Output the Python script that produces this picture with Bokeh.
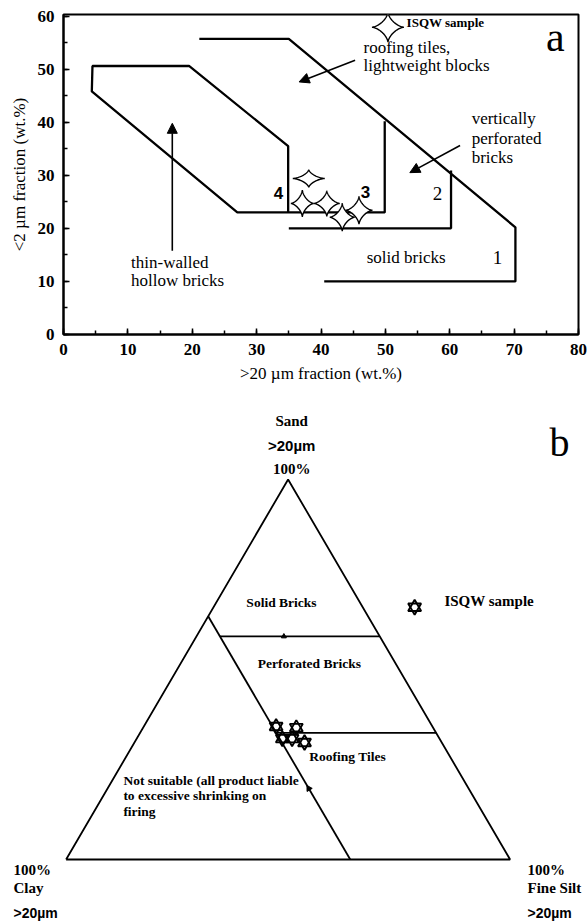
import numpy as np
from bokeh.plotting import figure
from bokeh.layouts import column
from bokeh.models import Range1d, SingleIntervalTicker, Arrow, NormalHead
from bokeh.core.properties import value
from bokeh.embed import file_html
from bokeh.resources import INLINE

SERIF = "Liberation Serif"
SANS = "Liberation Sans"

# ---------------- panel a : Winkler diagram ----------------
X_TICK_VALUES = [0, 10, 20, 30, 40, 50, 60, 70, 80]
Y_TICK_VALUES = [0, 10, 20, 30, 40, 50, 60]

# field boundaries (>20 um %, <2 um %)
solid_x = [21.1, 35.0, 70.2, 70.2, 40.5]
solid_y = [55.7, 55.7, 20.2, 10.0, 10.0]
perf_x = [60.2, 60.2, 35.0]
perf_y = [30.9, 20.0, 20.0]
roof_hollow_x = [49.9, 49.9, 27.0, 4.4, 4.5, 19.5, 34.9, 34.9]
roof_hollow_y = [40.2, 23.0, 23.0, 45.8, 50.6, 50.6, 35.5, 23.0]

# ISQW samples
sample_coarse = [38.1, 37.1, 40.9, 43.3, 45.9]   # >20 um fraction
sample_fine = [29.4, 24.7, 24.7, 22.1, 23.4]     # <2 um fraction
legend_a = [50.4, 57.9]

# ---------------- panel b : ternary diagram ----------------
tern_sand = [35.0, 34.7, 31.8, 31.8, 30.8]
tern_clay = [35.2, 30.8, 35.4, 33.2, 30.9]
tern_silt = [100 - s - c for s, c in zip(tern_sand, tern_clay)]
CLAY_LIMIT = 36.0
SAND_SOLID = 58.7
SAND_ROOF = 33.3

W = 587
H1 = 395
H2 = 921 - H1
BL, BR = 63, 9

# ---------- figure a ----------
p1 = figure(width=W, height=H1, x_range=Range1d(0, 80), y_range=Range1d(0, 60.3),
            output_backend="svg", toolbar_location=None,
            min_border_left=BL, min_border_right=BR, min_border_top=14, min_border_bottom=61)
p1.frame_align = False
p1.grid.visible = False
p1.outline_line_color = "black"
p1.outline_line_width = 2
p1.background_fill_color = "white"
p1.border_fill_color = "white"

for ax, lab in ((p1.xaxis[0], ">20 \u00b5m fraction (wt.%)"), (p1.yaxis[0], "<2 \u00b5m fraction (wt.%)")):
    ax.ticker = SingleIntervalTicker(interval=10, num_minor_ticks=2)
    ax.axis_label = lab
    ax.axis_line_width = 2
    ax.axis_line_color = "black"
    ax.major_tick_in = 6
    ax.major_tick_out = 0
    ax.minor_tick_in = 4
    ax.minor_tick_out = 0
    ax.major_tick_line_width = 1.5
    ax.minor_tick_line_width = 1.5
    ax.major_tick_line_color = "black"
    ax.minor_tick_line_color = "black"
    ax.major_label_text_font = SERIF
    ax.major_label_text_font_style = "bold"
    ax.major_label_text_font_size = "17px"
    ax.major_label_text_color = "black"
    ax.major_label_standoff = 9
    ax.axis_label_text_font = SERIF
    ax.axis_label_text_font_style = "normal"
    ax.axis_label_text_font_size = "17px"
    ax.axis_label_text_color = "black"
    ax.axis_label_standoff = 6

LW = 2.3
p1.line(solid_x, solid_y, line_color="black", line_width=LW)
p1.line(perf_x, perf_y, line_color="black", line_width=LW)
p1.line(roof_hollow_x, roof_hollow_y, line_color="black", line_width=LW)

# arrows
def add_arrow(p, x0, y0, x1, y1, size=10, lw=1.6):
    p.add_layout(Arrow(end=NormalHead(size=size, fill_color="black", line_color="black", line_width=1),
                       x_start=x0, y_start=y0, x_end=x1, y_end=y1,
                       line_color="black", line_width=lw))

add_arrow(p1, 45.3, 51.7, 36.6, 47.6)
add_arrow(p1, 61.6, 35.6, 53.8, 30.5)
add_arrow(p1, 16.9, 15.8, 16.9, 39.8)

# four pointed stars
SX = (W - BL - BR) / 80.0
SY = (H1 - 14 - 61) / 60.3
STAR_HALF = [(16, 9), (11.5, 13.5), (13, 13), (12.5, 14), (13.5, 14)]
LEGEND_HALF = (16, 15)

def star4(cx, cy, hw, hh, k=3.0, n=160):
    t = np.linspace(0, 2 * np.pi, n, endpoint=False)
    c, s = np.cos(t), np.sin(t)
    xs = cx + hw / SX * np.sign(c) * np.abs(c) ** k
    ys = cy + hh / SY * np.sign(s) * np.abs(s) ** k
    return list(xs), list(ys)

sxs, sys_ = [], []
for (cx, cy), (hw, hh) in zip(zip(sample_coarse, sample_fine), STAR_HALF):
    a, b = star4(cx, cy, hw, hh)
    sxs.append(a)
    sys_.append(b)
a, b = star4(legend_a[0], legend_a[1], *LEGEND_HALF)
sxs.append(a)
sys_.append(b)
p1.patches(sxs, sys_, fill_color="white", line_color="black", line_width=1.4)

def txt(p, x, y, t, size, font=SERIF, style="normal", align="left", baseline="middle"):
    p.text(x=[x], y=[y], text=[t], text_font=value(font), text_font_size=size,
           text_font_style=style, text_align=align, text_baseline=baseline, text_color="black")

txt(p1, 53.3, 58.8, "ISQW sample", "13px", style="bold")
txt(p1, 46.6, 54.1, "roofing tiles,", "17px")
txt(p1, 46.6, 50.7, "lightweight blocks", "17px")
txt(p1, 63.4, 40.7, "vertically", "17px")
txt(p1, 63.4, 36.9, "perforated", "17px")
txt(p1, 63.4, 33.4, "bricks", "17px")
txt(p1, 10.5, 13.6, "thin-walled", "17px")
txt(p1, 10.5, 10.2, "hollow bricks", "17px")
txt(p1, 47.1, 14.5, "solid bricks", "17px")
txt(p1, 67.4, 14.5, "1", "19px", align="center")
txt(p1, 58.1, 26.6, "2", "19px", align="center")
txt(p1, 46.9, 26.8, "3", "17px", font=SANS, style="bold", align="center")
txt(p1, 33.4, 26.6, "4", "17px", font=SANS, style="bold", align="center")
txt(p1, 76.4, 56.0, "a", "42px", align="center")

# ---------- figure b ----------
# page px -> ternary units: X = (px - 65.6)/4.44 ; frame spans the whole width
p2 = figure(width=W, height=H2, x_range=Range1d(-65.6 / 4.44, (W - 65.6) / 4.44),
            y_range=Range1d(-14.13, 105.74),
            x_axis_location=None, y_axis_location=None, min_border=0,
            output_backend="svg", toolbar_location=None)
p2.frame_align = False
p2.grid.visible = False
p2.outline_line_color = None
p2.background_fill_color = "white"
p2.border_fill_color = "white"

R3 = np.sqrt(3) / 2

def tern(sand, clay, silt):
    sand = np.asarray(sand, dtype=float)
    clay = np.asarray(clay, dtype=float)
    silt = np.asarray(silt, dtype=float)
    tot = sand + clay + silt
    s, f = sand / tot * 100, silt / tot * 100
    return list(f + s / 2), list(s * R3)

LW2 = 1.8
tx, ty = tern([0, 0, 100, 0], [100, 0, 0, 100], [0, 100, 0, 0])
p2.line(tx, ty, line_color="black", line_width=LW2)
ix, iy = tern([100 - CLAY_LIMIT, 0], [CLAY_LIMIT, CLAY_LIMIT], [0, 100 - CLAY_LIMIT])
p2.line(ix, iy, line_color="black", line_width=LW2)
hx, hy = tern([SAND_SOLID, SAND_SOLID], [CLAY_LIMIT, 0], [100 - SAND_SOLID - CLAY_LIMIT, 100 - SAND_SOLID])
p2.line(hx, hy, line_color="black", line_width=LW2)
rx, ry = tern([SAND_ROOF, SAND_ROOF], [CLAY_LIMIT, 0], [100 - SAND_ROOF - CLAY_LIMIT, 100 - SAND_ROOF])
p2.line(rx, ry, line_color="black", line_width=LW2)

# tiny arrow tips on the boundaries
ax1, ay1 = tern([SAND_SOLID], [21.6], [100 - SAND_SOLID - 21.6])
p2.scatter(ax1, ay1, marker="triangle", size=5, fill_color="black", line_color="black")
ax2, ay2 = tern([18.7], [CLAY_LIMIT], [100 - 18.7 - CLAY_LIMIT])
p2.scatter(ax2, ay2, marker="triangle", size=6, angle=0.54, fill_color="black", line_color="black")

# samples : hexagram stars
px_, py_ = tern(tern_sand, tern_clay, tern_silt)
px_ += [78.5]
py_ += [57.5]
for m in ("triangle", "inverted_triangle"):
    p2.scatter(px_, py_, marker=m, size=13, fill_alpha=0, line_color="black", line_width=1.9)

txt(p2, 48.5, 58.6, "Solid Bricks", "13.5px", style="bold", align="center")
txt(p2, 54.8, 44.7, "Perforated Bricks", "13.5px", style="bold", align="center")
txt(p2, 63.4, 23.5, "Roofing Tiles", "13.5px", style="bold", align="center")
txt(p2, 12.9, 18.0, "Not suitable (all product liable", "13.5px", style="bold")
txt(p2, 12.9, 14.6, "to excessive shrinking on", "13.5px", style="bold")
txt(p2, 12.9, 10.9, "firing", "13.5px", style="bold")
txt(p2, 85.2, 58.8, "ISQW sample", "15px", style="bold")
txt(p2, 50.8, 100.0, "Sand", "15px", style="bold", align="center")
txt(p2, 50.8, 94.3, ">20\u00b5m", "15px", font=SANS, style="bold", align="center")
txt(p2, 50.8, 89.0, "100%", "15px", style="bold", align="center")
txt(p2, 111.1, 95.1, "b", "40px", align="center")

LEFT_X = (13 - 65.6) / 4.44
RIGHT_X = (527 - 65.6) / 4.44
txt(p2, LEFT_X, -2.5, "100%", "15px", style="bold")
txt(p2, LEFT_X, -6.6, "Clay", "15px", style="bold")
txt(p2, LEFT_X, -12.3, ">20\u00b5m", "14px", font=SANS, style="bold")
txt(p2, RIGHT_X, -2.5, "100%", "15px", style="bold")
txt(p2, RIGHT_X, -6.6, "Fine Silt", "15px", style="bold")
txt(p2, RIGHT_X, -12.3, ">20\u00b5m", "14px", font=SANS, style="bold")

layout = column(p1, p2)
open("out.html", "w").write(file_html(layout, INLINE))
